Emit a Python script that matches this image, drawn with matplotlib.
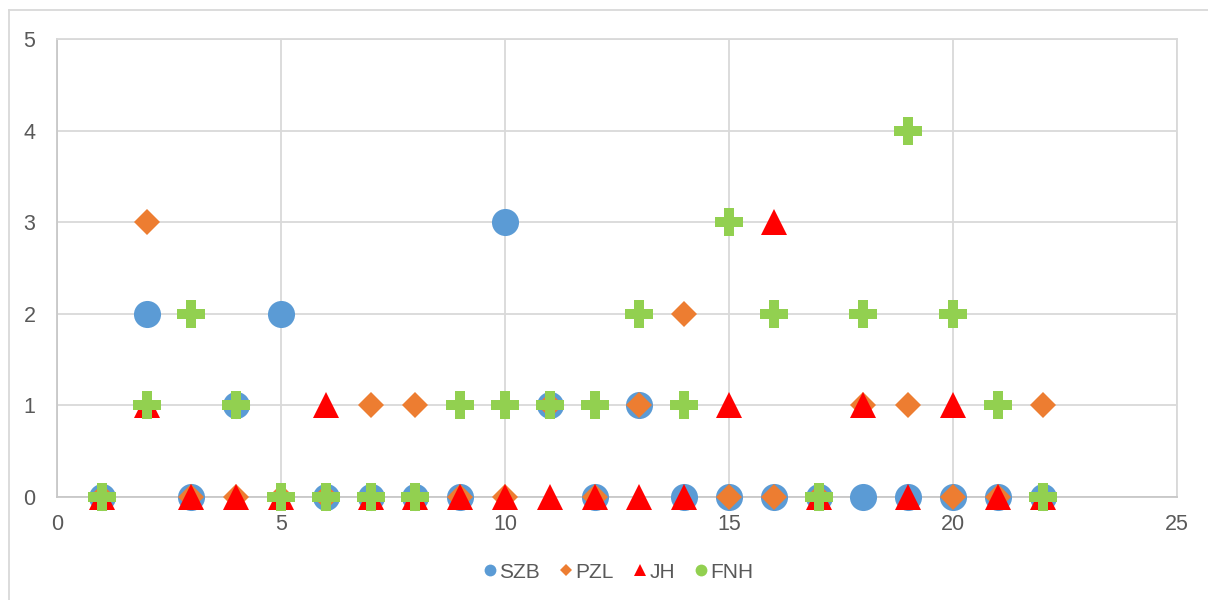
import matplotlib
matplotlib.use("Agg")
import matplotlib.pyplot as plt
from matplotlib.lines import Line2D

plt.rcParams["font.family"] = ["Liberation Sans", "DejaVu Sans"]

# counts per item index, one list per series
x = list(range(1, 23))
szb = [0, 2, 0, 1, 2, 0, 0, 0, 0, 3, 1, 0, 1, 0, 0, 0, 0, 0, 0, 0, 0, 0]
pzl = [0, 3, 0, 0, 0, 0, 1, 1, 0, 0, 1, 0, 1, 2, 0, 0, 0, 1, 1, 0, 0, 1]
jh = [0, 1, 0, 0, 0, 1, 0, 0, 0, 0, 0, 0, 0, 0, 1, 3, 0, 1, 0, 1, 0, 0]
fnh = [0, 1, 2, 1, 0, 0, 0, 0, 1, 1, 1, 1, 2, 1, 3, 2, 0, 2, 4, 2, 1, 0]

names = ["SZB", "PZL", "JH", "FNH"]
colors = ["#5B9BD5", "#ED7D31", "#FF0000", "#92D050"]

W, H = 1208, 600
fig = plt.figure(figsize=(W / 100, H / 100), dpi=100)
ax = fig.add_axes([57 / W, 1 - 497 / H, (1177 - 57) / W, (497 - 39) / H])

grid_c = "#d9d9d9"
styles = [
    dict(marker="o", markersize=19.5),
    dict(marker="D", markersize=13.3),
    dict(marker="^", markersize=19.0),
    dict(marker="P", markersize=19.8),
]
for i, (ys, c, st) in enumerate(zip([szb, pzl, jh, fnh], colors, styles)):
    ax.plot(x, ys, linestyle="none", color=c, markeredgewidth=0,
            clip_on=False, zorder=3 + i, **st)

ax.set_xlim(0, 25)
ax.set_ylim(0, 5)
ax.set_xticks(range(0, 26, 5))
ax.set_yticks(range(0, 6))
ax.grid(True, color=grid_c, linewidth=1.3)
ax.set_axisbelow(True)
for side in ["left", "bottom", "top", "right"]:
    ax.spines[side].set_color(grid_c)
    ax.spines[side].set_linewidth(1.3)
ax.spines["left"].set_color("#c8c8c8")
ax.spines["bottom"].set_color("#c8c8c8")
ax.tick_params(length=0, labelsize=15.5, colors="#595959")
ax.tick_params(axis="x", pad=12)
ax.tick_params(axis="y", pad=15.5)

handles = [
    Line2D([], [], linestyle="none", marker="o", markersize=8.5, color=colors[0], markeredgewidth=0),
    Line2D([], [], linestyle="none", marker="D", markersize=6, color=colors[1], markeredgewidth=0),
    Line2D([], [], linestyle="none", marker="^", markersize=8.5, color=colors[2], markeredgewidth=0),
    Line2D([], [], linestyle="none", marker="o", markersize=8.5, color=colors[3], markeredgewidth=0),
]
leg = fig.legend(handles, names, loc="center", bbox_to_anchor=(619 / W, 1 - 572 / H),
                 ncol=4, frameon=False, fontsize=15, handlelength=0.5,
                 handletextpad=0.2, columnspacing=1.0, labelcolor="#595959")

# chart area border (left and top edges)
fig.add_artist(Line2D([8.5 / W, 8.5 / W], [0, 1 - 10 / H], transform=fig.transFigure,
                      color=grid_c, linewidth=1.3))
fig.add_artist(Line2D([8.5 / W, 1], [1 - 10 / H, 1 - 10 / H], transform=fig.transFigure,
                      color=grid_c, linewidth=1.3))

fig.savefig("out.png", dpi=100)
